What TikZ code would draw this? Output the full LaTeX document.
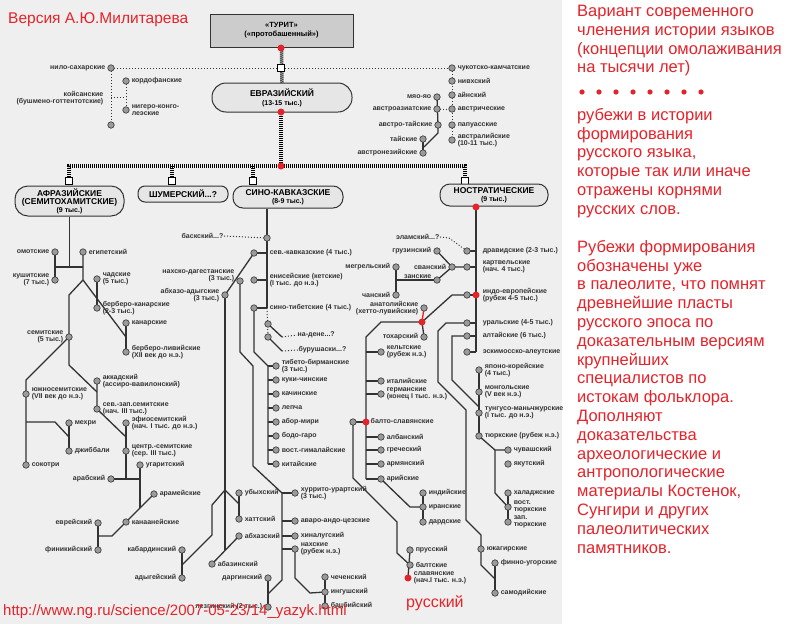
\documentclass[tikz,border=0pt]{standalone}
\usepackage{fontspec}
\setmainfont{Liberation Sans}
\usetikzlibrary{backgrounds}
\definecolor{redt}{HTML}{E5232A}
\definecolor{bggray}{HTML}{EFEFEF}
\definecolor{ink}{HTML}{333333}
\definecolor{dotfill}{HTML}{9A9A9A}
\definecolor{pillfill}{HTML}{E6E6E6}
\definecolor{boxfill}{HTML}{CCCCCC}
\newcommand{\lbfont}{\fontsize{7}{7.6}\selectfont\bfseries}
\newcommand{\capfont}{\fontsize{8.5}{8}\selectfont\bfseries}
\newcommand{\subfont}{\fontsize{7}{7}\selectfont\bfseries}

\begin{document}
\begin{tikzpicture}[x=1pt, y=-1pt,
  dt/.style={circle, draw=ink, fill=dotfill, line width=0.6pt, inner sep=0pt, minimum size=6.5pt},
  rdt/.style={circle, fill=redt, inner sep=0pt, minimum size=7pt},
  lb/.style={font=\lbfont, text=ink, inner sep=0.5pt},
  every label/.style={lb},
  label distance=1.5pt,
  br/.style={line width=1.3pt, draw=ink},
  dl/.style={line width=1pt, draw=ink, dotted},
  trunk/.style={line width=3.5pt, draw=black, dash pattern=on 1pt off 1pt},
  sqr/.style={draw=black, fill=white, line width=1pt, inner sep=0pt, minimum size=7pt},
  pill/.style={draw=ink, fill=pillfill, line width=1pt, align=center, inner sep=0pt, font=\capfont},
  rtxt/.style={text=redt, font=\fontsize{16.5}{18.8}\selectfont, align=left, inner sep=0pt, anchor=north west}
]
\useasboundingbox (0,0) rectangle (800,624);

% top
\node[text=redt, font=\fontsize{15.5}{18}\selectfont, anchor=west, inner sep=0pt] (ver) at (8,20) {Версия А.Ю.Милитарева};
\node[draw=ink, fill=boxfill, line width=1pt, minimum width=143pt, minimum height=33pt, align=center,
      font=\fontsize{7.5}{9}\selectfont\bfseries] (turit) at (281.5,30.5) {«ТУРИТ»\\(«протобашенный»)};
\node[rdt] (r0) at (281,48) {};
\node[sqr] (q0) at (281,68) {};
\node[pill, minimum width=140pt, minimum height=29pt, rounded corners=14pt] (eur) at (282,97.5)
  {ЕВРАЗИЙСКИЙ\\[1pt]{\subfont(13-15 тыс.)}};
\node[rdt] (r1) at (281,112) {};
\node[rdt] (r2) at (281,166) {};
\coordinate (hl) at (69,166);
\coordinate (hr) at (465,166);
\node[sqr] (qa) at (69,181) {};
\node[sqr] (qs) at (172,181) {};
\node[sqr] (qk) at (253,181) {};
\node[sqr] (qn) at (465,181) {};

\node[pill, minimum width=109pt, minimum height=30pt, rounded corners=13pt] (afr) at (69.5,201)
  {АФРАЗИЙСКИЕ\\(СЕМИТОХАМИТСКИЕ)\\{\subfont(9 тыс.)}};
\node[pill, minimum width=90pt, minimum height=16pt, rounded corners=7pt] (shum) at (183,194) {ШУМЕРСКИЙ...?};
\node[pill, minimum width=110pt, minimum height=22pt, rounded corners=10pt] (sk) at (288,197)
  {СИНО-КАВКАЗСКИЕ\\{\subfont(8-9 тыс.)}};
\node[pill, minimum width=108pt, minimum height=22pt, rounded corners=10pt] (nos) at (494,195)
  {НОСТРАТИЧЕСКИЕ\\{\subfont(9 тыс.)}};
\node[rdt] (rn) at (476,207) {};

% eurasian, left
\node[dt, label={left:нило-сахарские}] (nilo) at (111,68) {};
\node[dt] (nilo2) at (111,125) {};
\node[lb, align=right, anchor=east] (khoi) at (104,98) {койсанские\\(бушмено-готтентотские)};
\node[dt, label={right:кордофанские}] (kord) at (126,81) {};
\node[dt, label={[align=left]right:нигеро-конго-\\леэские}] (nig) at (126,110) {};

% eurasian, right
\node[dt, label={right:чукотско-камчатские}] (chuk) at (452,68) {};
\node[dt, label={right:нивхский}] (nivkh) at (452,81) {};
\node[dt, label={right:айнский}] (ain) at (452,95) {};
\node[dt, label={right:австрические}] (austric) at (452,109) {};
\node[dt, label={right:папуасские}] (papua) at (452,125) {};
\node[dt, label={[align=left]right:австралийские\\(10-11 тыс.)}] (austral) at (452,140) {};
\node[dt, label={left:мяо-яо}] (miao) at (437,97) {};
\node[dt, label={left:австроазиатские}] (aas) at (437,109) {};
\node[dt, label={left:австро-тайские}] (atai) at (438,125) {};
\node[dt, label={left:тайские}] (tai) at (423,139) {};
\node[dt, label={left:австронезийские}] (aon) at (423,153) {};

% afrasian
\node[dt, label={left:омотские}] (omot) at (55,252) {};
\node[dt, label={[align=right]left:кушитские\\(7 тыс.)}] (kush) at (55,280) {};
\node[dt, label={right:египетский}] (egy) at (83,252) {};
\node[dt, label={[align=left]right:чадские\\(5 тыс.)}] (chad) at (97,279) {};
\node[dt, label={[align=left]right:берберо-канарские\\(2-3 тыс.)}] (bcan) at (97,308) {};
\node[dt, label={right:канарские}] (kan) at (126,323) {};
\node[dt, label={[align=left]right:берберо-ливийские\\(XII век до н.э.)}] (bliv) at (126,352) {};
\node[dt, label={[align=right]left:семитские\\(5 тыс.)}] (sem) at (69,337) {};
\node[dt, label={[align=left]right:южносемитские\\(VII век до н.э.)}] (ssem) at (26,394) {};
\node[dt, label={right:сокотри}] (sok) at (26,465) {};
\node[dt, label={right:мехри}] (meh) at (69,423) {};
\node[dt, label={right:джиббали}] (jib) at (69,451) {};
\node[dt, label={[align=left]right:аккадский\\(ассиро-вавилонский)}] (akk) at (97,381) {};
\node[dt, label={[align=left]right:сев.-зап.семитские\\(нач. III тыс.)}] (nws) at (97,409) {};
\node[dt, label={[align=left]right:эфиосемитский\\(нач. I тыс. до н.э.)}] (eth) at (126,423) {};
\node[dt, label={[align=left]right:центр.-семитские\\(сер. III тыс.)}] (csem) at (126,451) {};
\node[dt, label={right:угаритский}] (ugar) at (140,465) {};
\node[dt, label={left:арабский}] (arab) at (111,479) {};
\node[dt, label={right:арамейские}] (aram) at (154,494) {};
\node[dt, label={right:канаанейские}] (kanaan) at (126,522) {};
\node[dt, label={left:еврейский}] (heb) at (98,523) {};
\node[dt, label={left:финикийский}] (phoen) at (98,550) {};

% sino-caucasian
\node[lb, anchor=east] (bql) at (224,236) {баскский...?};
\node[dt] (bask) at (267,238) {};
\node[dt, label={[xshift=10pt]right:сев.-кавказские (4 тыс.)}] (nc) at (254,253) {};
\node[dt, label={[align=left,xshift=10pt]right:енисейские (кетские)\\(I тыс. до н.э.)}] (yen) at (254,280) {};
\node[dt, label={[xshift=10pt]right:сино-тибетские (4 тыс.)}] (st) at (254,308) {};
\node[dt] (nad) at (268,324) {};
\node[dt] (bur) at (268,337) {};
\node[lb, anchor=west] (nadl) at (297,335) {на-дене...?};
\node[lb, anchor=west] (burl) at (298,350) {бурушаски...?};
\node[dt, label={[align=left]right:тибето-бирманские\\(3 тыс.)}] (tb) at (276,366) {};
\node[dt, label={right:куки-чинские}] (kuki) at (276,380) {};
\node[dt, label={right:качинские}] (kach) at (276,394) {};
\node[dt, label={right:лепча}] (lep) at (276,408) {};
\node[dt, label={right:абор-мири}] (abor) at (276,422) {};
\node[dt, label={right:бодо-гаро}] (bodo) at (276,436) {};
\node[dt, label={right:вост.-гималайские}] (eh) at (276,450) {};
\node[dt, label={right:китайские}] (chin) at (276,464) {};
\node[dt, label={[align=right,yshift=5pt]left:нахско-дагестанские\\(3 тыс.)}] (nd) at (240,281) {};
\node[dt, label={[align=right]left:абхазо-адыгские\\(3 тыс.)}] (aa) at (225,295) {};
\node[dt, label={right:убыхский}] (uby) at (239,493) {};
\node[dt, label={right:хаттский}] (hat) at (239,519) {};
\node[dt, label={right:абхазский}] (abk) at (239,536) {};
\node[dt, label={right:абазинский}] (abz) at (212,564) {};
\node[dt, label={left:кабардинский}] (kab) at (182,550) {};
\node[dt, label={left:адыгейский}] (ady) at (182,578) {};
\node[dt, label={[align=left]right:хуррито-урартский\\(3 тыс.)}] (hur) at (295,493) {};
\node[dt, label={right:аваро-андо-цезские}] (ava) at (295,521) {};
\node[dt, label={right:хиналугский}] (khi) at (295,536) {};
\node[dt, label={[align=left]right:нахские\\(рубеж н.э.)}] (nah) at (295,549) {};
\node[dt, label={left:даргинский}] (dar) at (268,578) {};
\node[dt, label={left:лезгинский (2 тыс.)}] (lez) at (268,607) {};
\node[dt, label={right:чеченский}] (che) at (325,577) {};
\node[dt, label={right:ингушский}] (ing) at (325,592) {};
\node[dt, label={right:бацбийский}] (bats) at (325,606) {};

% nostratic
\node[lb, anchor=east] (elam) at (440,237) {эламский...?};
\node[dt, label={[xshift=10pt]right:дравидские (2-3 тыс.)}] (drav) at (467,251) {};
\node[dt, label={[align=left,xshift=10pt]right:картвельские\\(нач. 4 тыс.)}] (kart) at (467,267) {};
\node[dt, label={left:сванский}] (svan) at (452,267) {};
\node[dt, label={left:грузинский}] (geo) at (437,251) {};
\node[dt, label={[yshift=3.5pt]left:занские}] (zan) at (437,280) {};
\node[dt, label={left:мегрельский}] (meg) at (396,267) {};
\node[dt, label={left:чанский}] (chan) at (396,295) {};
\node[dt, label={[align=left,xshift=10pt]right:индо-европейские\\(рубеж 4-5 тыс.)}] (ie) at (467,295) {};
\node[rdt] (rie) at (476,295) {};
\node[rdt] (ranat) at (422,322) {};
\node[dt, label={[align=right]left:анатолийские\\(хетто-лувийские)}] (anat) at (424,308) {};
\node[dt, label={left:тохарский}] (toch) at (424,337) {};
\node[dt, label={[align=left]right:кельтские\\(рубеж н.э.)}] (celt) at (381,352) {};
\node[dt, label={right:италийские}] (ital) at (381,381) {};
\node[dt, label={[align=left]right:германские\\(конец I тыс. н.э.)}] (germ) at (381,394) {};
\node[dt] (bs) at (353,422) {};
\node[rdt] (rbs) at (366,422) {};
\node[lb, anchor=west] (bsl) at (370,421) {балто-славянские};
\node[dt, label={right:албанский}] (alb) at (381,437) {};
\node[dt, label={right:греческий}] (gre) at (381,450) {};
\node[dt, label={right:армянский}] (arm) at (381,464) {};
\node[dt, label={right:арийские}] (ary) at (381,479) {};
\node[dt, label={right:индийские}] (ind) at (423,493) {};
\node[dt, label={right:иранские}] (ira) at (423,507) {};
\node[dt, label={right:дардские}] (dard) at (423,522) {};
\node[dt, label={right:прусский}] (prus) at (410,550) {};
\node[dt, label={right:балтские}] (balt) at (410,565) {};
\node[rdt, label={[align=left]right:славянские\\(нач.I тыс. н.э.)}] (slav) at (408,578) {};
\node[dt, label={[xshift=10pt]right:уральские (4-5 тыс.)}] (ural) at (467,323) {};
\node[dt, label={[xshift=10pt]right:алтайские (6 тыс.)}] (alt) at (467,336) {};
\node[dt, label={[xshift=10pt]right:эскимосско-алеутские}] (eska) at (467,352) {};
\node[dt, label={[align=left]right:японо-корейские\\(4 тыс.)}] (jk) at (479,370) {};
\node[dt, label={[align=left]right:монгольские\\(V век н.э.)}] (mon) at (479,392) {};
\node[dt, label={[align=left]right:тунгусо-маньчжурские\\(I тыс. до н.э.)}] (tun) at (479,413) {};
\node[dt, label={right:тюркские (рубеж н.э.)}] (tur) at (479,436) {};
\node[dt, label={right:чувашский}] (chuv) at (508,450) {};
\node[dt, label={right:якутский}] (yak) at (508,464) {};
\node[dt, label={right:халаджские}] (khal) at (508,493) {};
\node[dt, label={[align=left]right:вост.\\тюркские}] (vost) at (508,507) {};
\node[dt, label={[align=left]right:зап.\\тюркские}] (zap) at (508,522) {};
\node[dt, label={right:юкагирские}] (yuk) at (481,549) {};
\node[dt, label={right:финно-угорские}] (fu) at (495,563) {};
\node[dt, label={right:самодийские}] (sam) at (495,593) {};

% red notes
\node[text=redt, font=\fontsize{16}{16}\selectfont, anchor=west, inner sep=0pt] (rus) at (406,603) {русский};
\node[text=redt, font=\fontsize{15}{15}\selectfont, anchor=west, inner sep=0pt] (url) at (3,612)
  {http://www.ng.ru/science/2007-05-23/14\_yazyk.html};
\node[rtxt] (t1) at (577,5) {Вариант современного\\членения истории языков\\(концепции омолаживания\\на тысячи лет)};
\node[rtxt] (t2) at (577,108) {рубежи в истории\\формирования\\русского языка,\\которые так или иначе\\отражены корнями\\русских слов.};
\node[rtxt] (t3) at (577,240) {Рубежи формирования\\обозначены уже\\в палеолите, что помнят\\древнейшие пласты\\русского эпоса по\\доказательным версиям\\крупнейших\\специалистов по\\истокам фольклора.\\Дополняют\\доказательства\\археологические и\\антропологические\\материалы Костенок,\\Сунгири и других\\палеолитических\\памятников.};

\begin{scope}[on background layer]
  \fill[white] (0,0) rectangle (800,624);
  \fill[bggray] (0,0) rectangle (562,624);
  \foreach \i in {0,...,7}
    \fill[redt] (582+\i*17,92) circle (2.6);

  % trunks
  \draw[trunk] (turit.south) -- (eur.north);
  \draw[trunk] (r1.center) -- (r2.center);
  \draw[trunk] (qa.center) -- (hl) -- (hr) -- (qn.center);
  \draw[trunk] (qs.center) -- (qs |- hl);
  \draw[trunk] (qk.center) -- (qk |- hl);
  \draw[dl] (nilo.center) -- (chuk.center);

  % eurasian
  \draw[dl] (nilo.center) -- (nilo2.center);
  \draw[dl] (111,97) -- (126,97);
  \draw[dl] (kord.center) -- (nig.center);
  \draw[dl] (chuk.center) -- (austral.center);
  \draw[dl] (aas.center) -- (austric.center);
  \draw[br] (miao.center) -- (atai.center) -- (438,133) -- (424,147);
  \draw[br] (tai.center) -- (aon.center);

  % afrasian
  \draw[br] (afr.south) -- (69.5,267);
  \draw[br] (omot.center) -- (kush.center);
  \draw[br] (55,267) -- (83,267);
  \draw[br] (egy.center) -- (83,280) -- (69,295) -- (sem.center);
  \draw[br] (83,280) -- (126,337);
  \draw[br] (chad.center) -- (bcan.center);
  \draw[br] (kan.center) -- (bliv.center);
  \draw[br] (sem.center) -- (26,380) -- (sok.center);
  \draw[br] (26,422) -- (55,422) -- (69,437);
  \draw[br] (meh.center) -- (jib.center);
  \draw[br] (sem.center) -- (69,365) -- (97,392);
  \draw[br] (akk.center) -- (nws.center) -- (126,437);
  \draw[br] (eth.center) -- (126,479);
  \draw[br] (arab.center) -- (140,479);
  \draw[br] (ugar.center) -- (140,508);
  \draw[br] (aram.center) -- (112,536) -- (98,536);
  \draw[br] (heb.center) -- (phoen.center);

  % sino-caucasian
  \draw[br] (sk.south -| bask) -- (bask.center) -- (st.center -| bask);
  \draw[dl] (st.center -| bask) -- (bur.center);
  \draw[dl] (bql.east) -- (bask.center);
  \foreach \n in {nc,yen,st}
    \draw[br] (\n.center) -- ++(13,0);
  \draw[br] (nad.center) -- (282,337);
  \draw[dl] (282,337) -- (nadl.west);
  \draw[br] (bur.center) -- (282,351);
  \draw[dl] (282,351) -- (burl.west);
  \draw[br] (st.center) -- (254,352) -- (268,366) -- (268,464);
  \foreach \n in {tb,kuki,kach,lep,abor,bodo,eh,chin}
    \draw[br] (\n.center) -- ++(-8,0);
  \draw[br] (nc.center) -- (aa.center);
  \draw[br] (nd.center) -- (240,352) -- (253,366) -- (253,466) -- (282,493) -- (282,580) -- (268,594);
  \draw[br] (dar.center) -- (lez.center);
  \foreach \n in {hur,ava,khi,nah}
    \draw[br] (\n.center) -- ++(-13,0);
  \draw[br] (nah.center) -- (295,578) -- (310,593) -- (ing.center);
  \draw[br] (che.center) -- (bats.center);
  \draw[br] (aa.center) -- (225,550);
  \draw[br] (abk.center) -- (abz.center);
  \draw[br] (225,490) -- (239,504);
  \draw[br] (uby.center) -- (hat.center);
  \draw[br] (225,490) -- (212,505) -- (212,535) -- (182,565);
  \draw[br] (kab.center) -- (ady.center);

  % nostratic
  \draw[br] (rn.center) -- (eska.center -| rn);
  \foreach \n in {drav,kart,ie,ural,alt,eska}
    \draw[br] (\n.center) -- ++(9,0);
  \draw[dl] (elam.east) -- (449,238) -- (drav.center);
  \draw[br] (geo.center) -- (svan.center) -- (kart.center);
  \draw[br] (zan.center) -- (svan.center);
  \draw[br] (meg.center) -- (chan.center);
  \draw[br] (396,280) -- (zan.center);
  \draw[br] (ie.center) -- (452,295) -- (ranat.center) -- (381,322) -- (366,337) -- (366,479);
  \draw[redt, line width=1.3pt] (ranat.center) -- (anat.center);
  \draw[br] (ranat.center) -- (toch.center);
  \foreach \n in {celt,ital,germ,alb,gre,arm,ary}
    \draw[br] (\n.center) -- ++(-15,0);
  \draw[br] (bs.center) -- (rbs.center);
  \draw[br] (bs.center) -- (353,478) -- (397,522) -- (397,553) -- (balt.center);
  \draw[br] (prus.center) -- (slav.center);
  \draw[br] (ary.center) -- (410,507) -- (ira.center);
  \draw[br] (ind.center) -- (dard.center);
  \draw[br] (ural.center) -- (446,323) -- (438,331) -- (438,382) -- (466,410) -- (466,520) -- (481,535) -- (481,565) -- (495,579);
  \draw[br] (fu.center) -- (sam.center);
  \draw[br] (alt.center) -- (452,336) -- (452,380) -- (479,407);
  \draw[br] (jk.center) -- (tur.center);
  \draw[br] (tur.center) -- (495,450) -- (chuv.center);
  \draw[br] (495,450) -- (495,493) -- (vost.center);
  \draw[br] (khal.center) -- (zap.center);
\end{scope}
\end{tikzpicture}
\end{document}
